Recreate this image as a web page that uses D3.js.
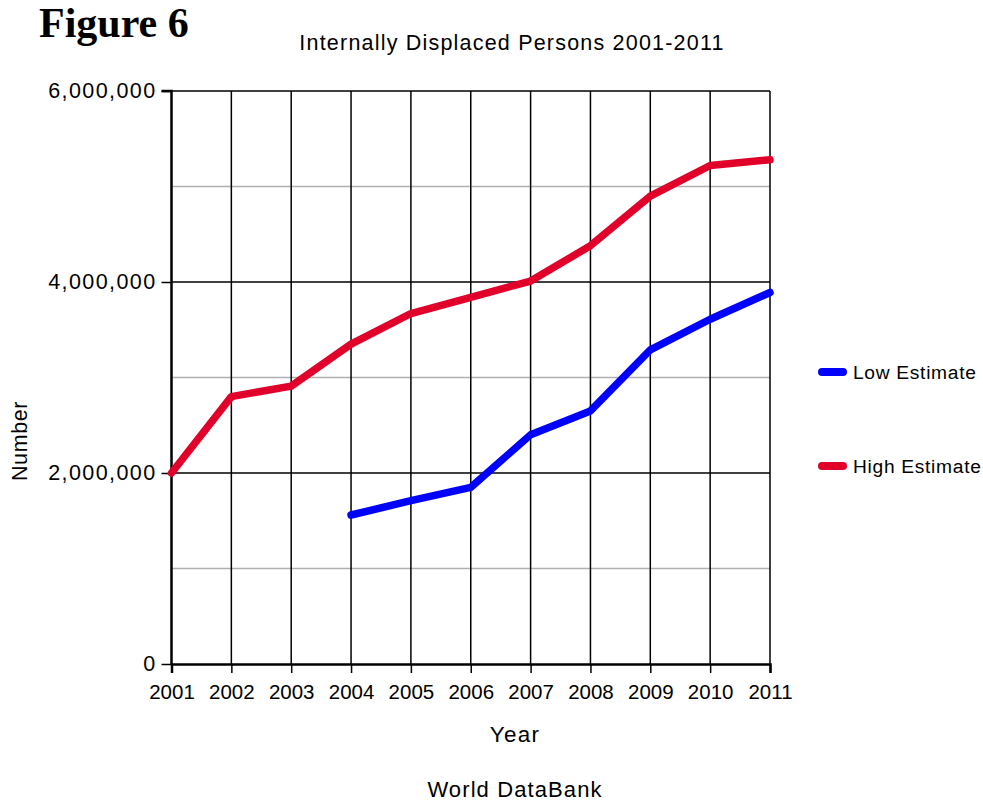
<!DOCTYPE html>
<html><head><meta charset="utf-8">
<script src="https://cdn.jsdelivr.net/npm/d3@7"></script>
<style>body{margin:0;background:#fff}svg{display:block}text{font-family:"Liberation Sans",Arial,Helvetica,sans-serif;fill:#000}</style>
</head><body>
<script>
const years = [2001,2002,2003,2004,2005,2006,2007,2008,2009,2010,2011];
const highEstimate = [2000000,2800000,2910000,3350000,3670000,3840000,4010000,4380000,4900000,5220000,5280000];
const lowEstimate = [null,null,null,1560000,1710000,1850000,2400000,2650000,3290000,3610000,3890000];
const yTicks = [0,2000000,4000000,6000000];
const yMinorTicks = [1000000,3000000,5000000];
const seriesNames = ["Low Estimate","High Estimate"];
const seriesColors = ["#0000ff","#e0002a"];

const W=983,H=801;
const svg=d3.select("body").append("svg").attr("width",W).attr("height",H);
const x=d3.scaleLinear().domain([2001,2011]).range([171.5,770]);
const y=d3.scaleLinear().domain([0,6000000]).range([664,91]);

svg.append("g").selectAll("line").data(yMinorTicks).join("line")
  .attr("x1",x(2001)).attr("x2",x(2011)).attr("y1",d=>y(d)).attr("y2",d=>y(d))
  .attr("stroke","#b0b0b0").attr("stroke-width",1.5);
svg.append("g").selectAll("line").data(yTicks.slice(1)).join("line")
  .attr("x1",x(2001)).attr("x2",x(2011)).attr("y1",d=>y(d)).attr("y2",d=>y(d))
  .attr("stroke","#000").attr("stroke-width",1.5);
svg.append("g").selectAll("line").data(years.slice(1)).join("line")
  .attr("x1",d=>x(d)).attr("x2",d=>x(d)).attr("y1",y(0)).attr("y2",y(6000000))
  .attr("stroke","#000").attr("stroke-width",1.5);

const fmt=d3.format(",");
const yAxis=svg.append("g").attr("transform",`translate(${x(2001)},0)`)
  .call(d3.axisLeft(y).tickValues(yTicks).tickFormat(fmt).tickSize(10).tickPadding(5));
const xAxis=svg.append("g").attr("transform",`translate(0,${y(0)})`)
  .call(d3.axisBottom(x).tickValues(years).tickFormat(d3.format("d")).tickSize(9).tickPadding(11));
[yAxis,xAxis].forEach(g=>{
  g.select(".domain").attr("stroke","#000").attr("stroke-width",2.5);
  g.selectAll(".tick line").attr("stroke","#000").attr("stroke-width",1.5);
  g.selectAll("text").attr("font-family","Liberation Sans, Arial, sans-serif").attr("fill","#000");
});
yAxis.selectAll("text").attr("font-size",21.5).attr("letter-spacing",1.4);
xAxis.selectAll("text").attr("font-size",20.5);
yAxis.select(".domain").attr("d",`M-10,${y(6000000)}H0V${y(0)}`);

const line=d3.line().defined(d=>d[1]!=null).x(d=>x(d[0])).y(d=>y(d[1]));
[lowEstimate,highEstimate].forEach((vals,i)=>{
  svg.append("path").datum(years.map((yr,j)=>[yr,vals[j]]))
    .attr("d",line).attr("fill","none").attr("stroke",seriesColors[i])
    .attr("stroke-width",7.5).attr("stroke-linecap","round").attr("stroke-linejoin","round");
});

const legY=[372,466];
seriesNames.forEach((n,i)=>{
  svg.append("line").attr("x1",822).attr("x2",843).attr("y1",legY[i]).attr("y2",legY[i])
    .attr("stroke",seriesColors[i]).attr("stroke-width",8).attr("stroke-linecap","round");
  svg.append("text").attr("x",853).attr("y",legY[i]+7).attr("font-size",19.2).attr("letter-spacing",0.7).text(n);
});

svg.append("text").attr("x",39).attr("y",37).attr("font-size",42).attr("font-weight","bold")
  .style("font-family","'Liberation Serif','Times New Roman',serif").text("Figure 6");
svg.append("text").attr("x",512).attr("y",50).attr("text-anchor","middle").attr("font-size",21.5)
  .attr("letter-spacing",1.2).text("Internally Displaced Persons 2001-2011");
svg.append("text").attr("x",515).attr("y",742).attr("text-anchor","middle").attr("font-size",22.4)
  .attr("letter-spacing",1.3).text("Year");
svg.append("text").attr("transform","translate(27,441) rotate(-90)").attr("text-anchor","middle")
  .attr("font-size",21.5).attr("letter-spacing",0.6).text("Number");
svg.append("text").attr("x",515).attr("y",797).attr("text-anchor","middle").attr("font-size",22)
  .attr("letter-spacing",1.1).text("World DataBank");
</script>
</body></html>
